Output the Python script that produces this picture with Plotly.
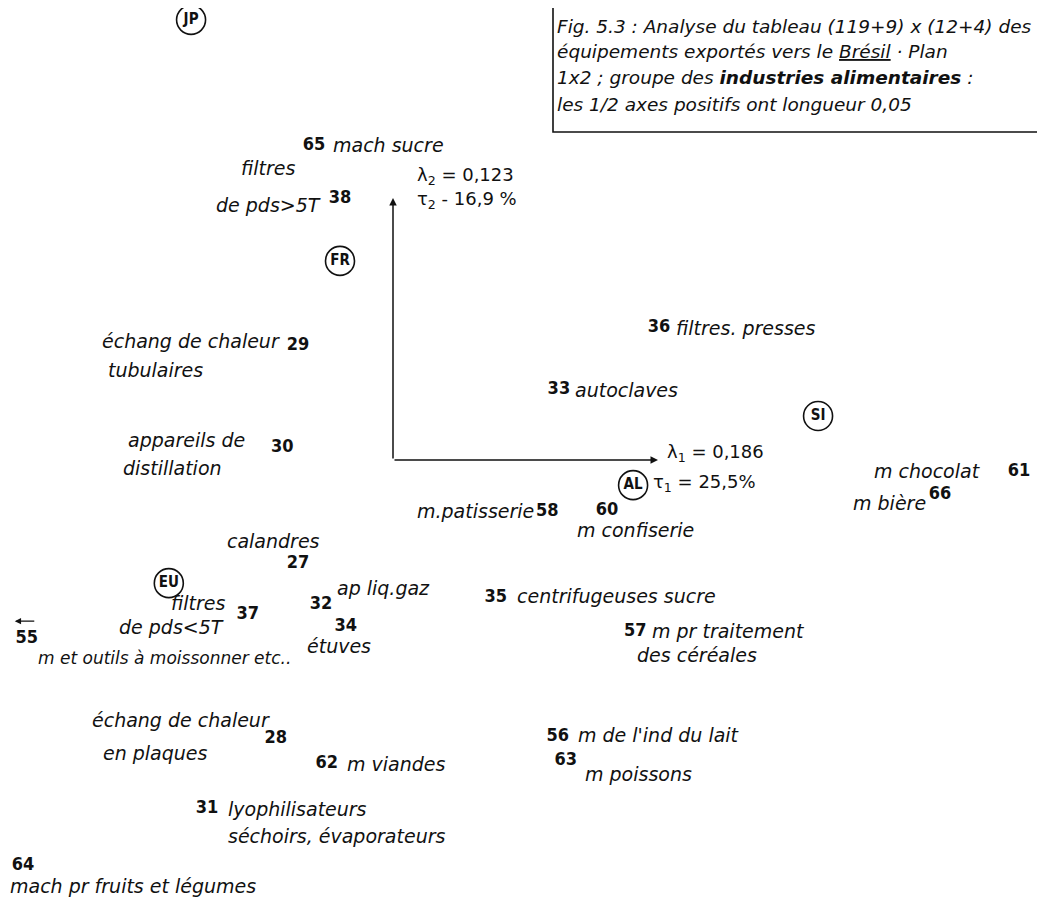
import plotly.graph_objects as go

# ---------------- data (factor coordinates) ----------------
item_ids = ["65", "38", "29", "30", "36", "33", "58", "60", "61", "66", "27", "32",
            "34", "37", "55", "35", "57", "28", "62", "56", "63", "31", "64"]
item_x = [-0.0149, -0.0100, -0.0179, -0.0209, 0.0502, 0.0313, 0.0291, 0.0404, 0.1181,
          0.1032, -0.0179, -0.0136, -0.0089, -0.0274, -0.0691, 0.0194, 0.0457, -0.0221,
          -0.0125, 0.0311, 0.0326, -0.0351, -0.0698]
item_y = [0.0601, 0.0500, 0.0219, 0.0023, 0.0252, 0.0134, -0.0098, -0.0097, -0.0021,
          -0.0065, -0.0197, -0.0275, -0.0317, -0.0294, -0.0340, -0.0263, -0.0328, -0.0531,
          -0.0580, -0.0527, -0.0574, -0.0666, -0.0773]
item_names = ["mach sucre", "filtres\nde pds>5T", "échang de chaleur\ntubulaires",
              "appareils de\ndistillation", "filtres. presses", "autoclaves",
              "m.patisserie", "m confiserie", "m chocolat", "m bière", "calandres",
              "ap liq.gaz", "étuves", "filtres\nde pds<5T", "m et outils à moissonner etc..",
              "centrifugeuses sucre", "m pr traitement\ndes céréales",
              "échang de chaleur\nen plaques", "m viandes", "m de l'ind du lait",
              "m poissons", "lyophilisateurs\nséchoirs, évaporateurs",
              "mach pr fruits et légumes"]

country_codes = ["JP", "FR", "SI", "AL", "EU"]
country_x = [-0.0381, -0.0100, 0.0802, 0.0453, -0.0423]
country_y = [0.0840, 0.0380, 0.0084, -0.0048, -0.0235]

eigenvalues = ["0,186", "0,123"]
inertia = ["25,5%", "16,9 %"]
half_axis = 0.05
off_chart_left = ["55"]

title_lines = [
    "Fig. 5.3 : Analyse du tableau (119+9) x (12+4) des",
    "équipements exportés vers le <u>Brésil</u> · Plan",
    "1x2 ; groupe des <b>industries alimentaires</b> :",
    "les 1/2 axes positifs ont longueur 0,05",
]

# ---------------- layout / styling (pixel offsets of the labels) ----------------
label_layout = {
    "65": [(17, 0, "left")],
    "38": [(-72, -30, "center"), (-72, 7, "center")],
    "29": [(-198, -4, "left"), (-192, 25, "left")],
    "30": [(-156, -8, "left"), (-161, 20, "left")],
    "36": [(15, 0, "left")],
    "33": [(14, 0, "left")],
    "58": [(-11, 0, "right")],
    "60": [(-32, 19, "left")],
    "61": [(-36, 0, "right")],
    "66": [(-12, 9, "right")],
    "27": [(-25, -22, "center")],
    "32": [(14, -16, "left")],
    "34": [(-41, 20, "left")],
    "37": [(-20, -11, "right"), (-22, 13, "right")],
    "55": [(9, 20, "left")],
    "35": [(19, -2, "left")],
    "57": [(15, -1, "left"), (0, 23, "left")],
    "28": [(-186, -18, "left"), (-175, 15, "left")],
    "62": [(18, 0, "left")],
    "56": [(18, -1, "left")],
    "63": [(17, 13, "left")],
    "31": [(19, 0, "left"), (19, 27, "left")],
    "64": [(-15, 21, "left")],
}
label_size_override = {"55": 17}

W, H = 1045, 900
ORIGIN_PX = (385, 452)
PX_PER_UNIT_X = 5300
PX_PER_UNIT_Y = 5240
x_range = [-ORIGIN_PX[0] / PX_PER_UNIT_X, (W - ORIGIN_PX[0]) / PX_PER_UNIT_X]
y_range = [-(H - ORIGIN_PX[1]) / PX_PER_UNIT_Y, ORIGIN_PX[1] / PX_PER_UNIT_Y]

NAME_FAMILY = "DejaVu Sans, Liberation Sans, sans-serif"
NAME_SIZE = 19
NUM_FONT = dict(family="Liberation Sans Narrow, DejaVu Sans Condensed, Liberation Sans, sans-serif",
                size=18, color="#111")
TITLE_FONT = dict(family="DejaVu Sans, Liberation Sans, sans-serif", size=18.5, color="#111", style="italic")
EIG_FONT = dict(family="DejaVu Sans, Liberation Sans, sans-serif", size=18, color="#111")

fig = go.Figure()

# item numbers (the points)
fig.add_trace(go.Scatter(
    x=item_x, y=item_y, mode="text",
    text=[f"<b>{i}</b>" for i in item_ids],
    textposition="middle center", textfont=NUM_FONT,
    hoverinfo="skip", showlegend=False,
))

# circled country labels
fig.add_trace(go.Scatter(
    x=country_x, y=country_y, mode="markers+text",
    marker=dict(symbol="circle-open", size=29, color="#111", line=dict(width=1.6, color="#111")),
    text=[f"<b>{c}</b>" for c in country_codes],
    textposition="middle center",
    textfont=dict(family="Liberation Sans Narrow, DejaVu Sans Condensed, Liberation Sans, sans-serif",
                  size=15, color="#111"),
    hoverinfo="skip", showlegend=False,
))

annotations = []
# names next to the numbers
for iid, x, y, name in zip(item_ids, item_x, item_y, item_names):
    lines = name.split("\n")
    size = label_size_override.get(iid, NAME_SIZE)
    for line, (dx, dy, xa) in zip(lines, label_layout[iid]):
        annotations.append(dict(
            x=x, y=y, xref="x", yref="y", text=line, showarrow=False,
            xanchor=xa, yanchor="middle", xshift=dx, yshift=-dy,
            font=dict(family=NAME_FAMILY, size=size, color="#111", style="italic"),
        ))
    if iid in off_chart_left:
        annotations.append(dict(
            x=x, y=y, xref="x", yref="y", text="", showarrow=True,
            ax=21, ay=0, xshift=-12, yshift=17,
            arrowhead=2, arrowsize=0.9, arrowwidth=1.4, arrowcolor="#111",
        ))

# axes (half axes of length 0.05)
for hx, hy in [(half_axis, 0), (0, half_axis)]:
    annotations.append(dict(
        x=hx, y=hy, ax=0, ay=0, xref="x", yref="y", axref="x", ayref="y",
        text="", showarrow=True, arrowhead=2, arrowsize=1.0, arrowwidth=1.5,
        arrowcolor="#111", standoff=0, startstandoff=0,
    ))

# axis 1 labels
annotations.append(dict(x=half_axis, y=0, xref="x", yref="y", showarrow=False,
                        text=f"λ<sub>1</sub> = {eigenvalues[0]}", xanchor="left", yanchor="middle",
                        xshift=7, yshift=7, font=EIG_FONT))
annotations.append(dict(x=half_axis, y=0, xref="x", yref="y", showarrow=False,
                        text=f"τ<sub>1</sub> = {inertia[0]}", xanchor="left", yanchor="middle",
                        xshift=-7, yshift=-23, font=EIG_FONT))
# axis 2 labels
annotations.append(dict(x=0, y=half_axis, xref="x", yref="y", showarrow=False,
                        text=f"λ<sub>2</sub> = {eigenvalues[1]}", xanchor="left", yanchor="middle",
                        xshift=22, yshift=22, font=EIG_FONT))
annotations.append(dict(x=0, y=half_axis, xref="x", yref="y", showarrow=False,
                        text=f"τ<sub>2</sub> - {inertia[1]}", xanchor="left", yanchor="middle",
                        xshift=22, yshift=-2, font=EIG_FONT))

# title box text
title_y_px = [18, 44, 70, 97]
for line, ty in zip(title_lines, title_y_px):
    annotations.append(dict(
        x=547 / W, y=1 - ty / H, xref="paper", yref="paper", text=line, showarrow=False,
        xanchor="left", yanchor="middle", font=TITLE_FONT,
    ))

fig.add_shape(type="rect", xref="paper", yref="paper",
              x0=545 / W, x1=1.02, y0=1 - 124 / H, y1=1.02,
              line=dict(color="#111", width=1.6), fillcolor="rgba(0,0,0,0)")

fig.update_layout(
    width=W, height=H, autosize=False,
    margin=dict(l=0, r=0, t=0, b=0),
    paper_bgcolor="white", plot_bgcolor="white",
    xaxis=dict(range=x_range, visible=False, fixedrange=True),
    yaxis=dict(range=y_range, visible=False, fixedrange=True),
    annotations=annotations, showlegend=False,
)

fig.write_html("out.html")
